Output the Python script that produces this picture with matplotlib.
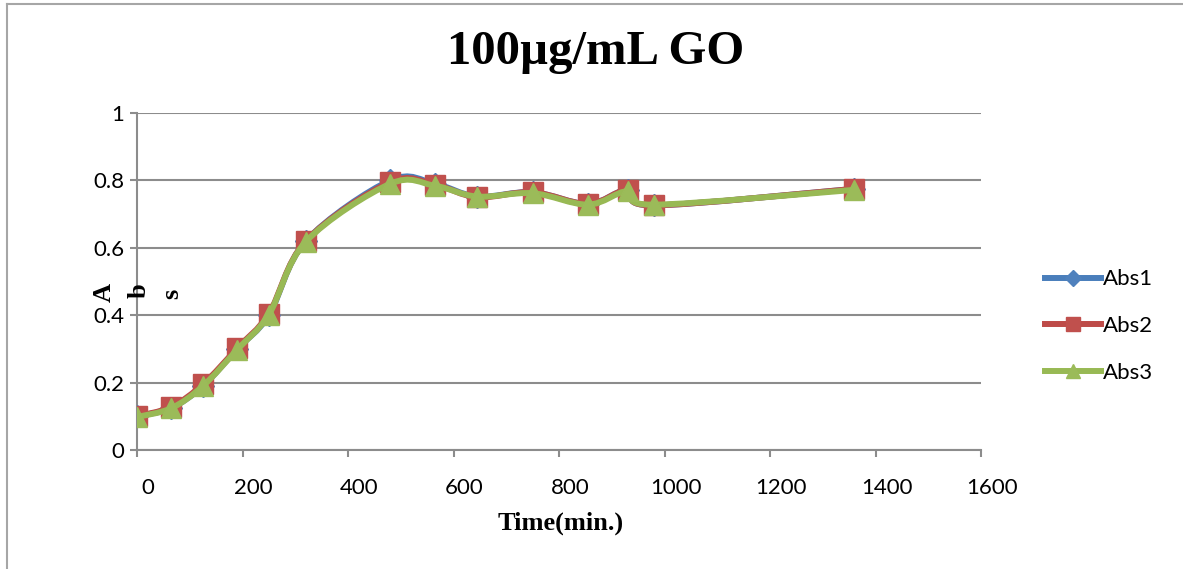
import matplotlib
matplotlib.use('Agg')
import matplotlib.pyplot as plt
import matplotlib.transforms as mtransforms
from matplotlib.path import Path
from matplotlib.patches import PathPatch
from matplotlib.lines import Line2D
import numpy as np

# data
time_min = [0, 65, 125, 190, 250, 320, 480, 565, 645, 750, 855, 930, 980, 1360]
abs1 = [0.100, 0.125, 0.190, 0.300, 0.400, 0.620, 0.800, 0.790, 0.752, 0.765, 0.730, 0.772, 0.726, 0.775]
abs2 = [0.100, 0.128, 0.195, 0.302, 0.405, 0.620, 0.795, 0.787, 0.750, 0.765, 0.730, 0.772, 0.726, 0.775]
abs3 = [0.098, 0.124, 0.190, 0.298, 0.402, 0.618, 0.790, 0.784, 0.752, 0.762, 0.728, 0.768, 0.728, 0.772]
series_names = ['Abs1', 'Abs2', 'Abs3']
x_ticks = [0, 200, 400, 600, 800, 1000, 1200, 1400, 1600]
y_ticks = [0, 0.2, 0.4, 0.6, 0.8, 1]
y_tick_labels = ['0', '0.2', '0.4', '0.6', '0.8', '1']

colors = ['#4A7EBB', '#BE4B48', '#98B954']
marker_colors = ['#4F81BD', '#C0504D', '#9BBB59']
markers = ['D', 's', '^']
marker_sizes = [11, 14.5, 15]

tick_font = 'Lato'
serif = 'Liberation Serif'
grid_col = '#8C8C8C'


def smooth_path(x, y):
    # Excel style smoothed line: bezier through every point
    pts = np.column_stack([x, y]).astype(float)
    n = len(pts)
    verts = [pts[0]]
    codes = [Path.MOVETO]
    for i in range(n - 1):
        p0 = pts[i - 1] if i > 0 else pts[i]
        p1 = pts[i]
        p2 = pts[i + 1]
        p3 = pts[i + 2] if i + 2 < n else pts[i + 1]
        c1 = p1 + (p2 - p0) / 6.0
        c2 = p2 - (p3 - p1) / 6.0
        verts += [c1, c2, p2]
        codes += [Path.CURVE4] * 3
    return Path(verts, codes)


fig = plt.figure(figsize=(11.83, 5.69), dpi=100)
ax = fig.add_axes([137 / 1183, 1 - 450 / 569, (981 - 137) / 1183, (450 - 113) / 569])

ax.set_xlim(0, 1600)
ax.set_ylim(0, 1)

handles = []
for vals, name, c, mc, m, ms in zip([abs1, abs2, abs3], series_names, colors, marker_colors, markers, marker_sizes):
    patch = PathPatch(smooth_path(time_min, vals), facecolor='none', edgecolor=c,
                      linewidth=4.3, capstyle='round', joinstyle='round', zorder=3)
    ax.add_patch(patch)
    ax.plot(time_min, vals, linestyle='none', marker=m, markersize=ms,
            markerfacecolor=mc, markeredgecolor=mc, zorder=3)
    handles.append(Line2D([0], [0], color=c, linewidth=4.3, marker=m,
                          markersize=ms * 0.7, markerfacecolor=mc, markeredgecolor=mc,
                          label=name))

# grid and axes
ax.set_yticks(y_ticks)
ax.set_yticklabels(y_tick_labels)
ax.set_xticks(x_ticks)
ax.grid(axis='y', color=grid_col, linewidth=1.5)
ax.set_axisbelow(True)
for s in ['top', 'right']:
    ax.spines[s].set_visible(False)
for s in ['left', 'bottom']:
    ax.spines[s].set_color(grid_col)
    ax.spines[s].set_linewidth(1.5)
ax.tick_params(axis='both', direction='out', length=5, width=1.5, color=grid_col,
               labelsize=16, pad=4)
for lab in ax.get_xticklabels() + ax.get_yticklabels():
    lab.set_fontfamily(tick_font)

# x tick labels sit a little to the right of their ticks
offset = mtransforms.ScaledTranslation(11 / 100, -15 / 100, fig.dpi_scale_trans)
for lab in ax.get_xticklabels():
    lab.set_transform(lab.get_transform() + offset)

# title and axis labels
fig.text(596 / 1183, 1 - 52 / 569, '100µg/mL GO', ha='center', va='center',
         fontsize=35, fontweight='bold', family=serif)
fig.text(561 / 1183, 1 - 523 / 569, 'Time(min.)', ha='center', va='center',
         fontsize=19, fontweight='bold', family=serif)
for ch, px, py in [('A', 104, 292), ('b', 139, 291), ('s', 172, 294)]:
    fig.text(px / 1183, 1 - py / 569, ch, ha='center', va='center', rotation=90,
             fontsize=19, fontweight='bold', family=serif)

leg = fig.legend(handles=handles, loc='center left', bbox_to_anchor=(1045 / 1183, 1 - 326 / 569),
                 frameon=False, prop={'family': tick_font, 'size': 16}, handlelength=2.5,
                 handletextpad=0.1, labelspacing=1.2, borderpad=0, borderaxespad=0)

# frame of the screenshot
fig.add_artist(Line2D([7 / 1183, 7 / 1183], [0, 1 - 4 / 569], color='#A6A6A6', linewidth=1.5))
fig.add_artist(Line2D([7 / 1183, 1], [1 - 4 / 569, 1 - 4 / 569], color='#A6A6A6', linewidth=1.5))

fig.savefig('out.png', dpi=100)
